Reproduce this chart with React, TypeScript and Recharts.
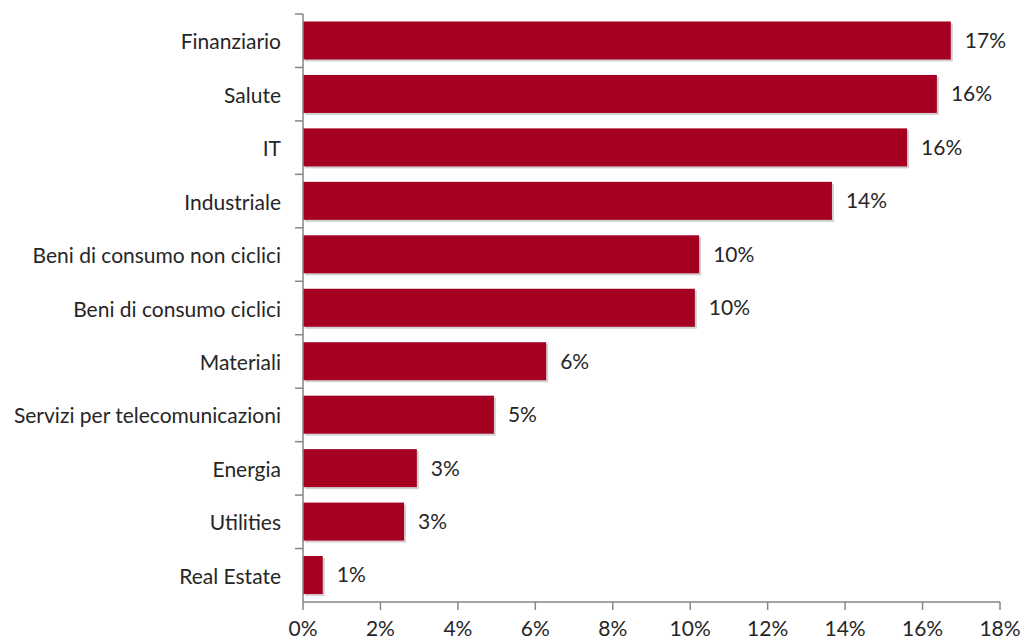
import { BarChart, Bar, XAxis, YAxis, LabelList } from "recharts";

const categories = [
  "Finanziario",
  "Salute",
  "IT",
  "Industriale",
  "Beni di consumo non ciclici",
  "Beni di consumo ciclici",
  "Materiali",
  "Servizi per telecomunicazioni",
  "Energia",
  "Utilities",
  "Real Estate",
];
const weights = [16.73, 16.37, 15.6, 13.66, 10.23, 10.12, 6.28, 4.93, 2.94, 2.61, 0.51];
const labels = ["17%", "16%", "16%", "14%", "10%", "10%", "6%", "5%", "3%", "3%", "1%"];
const xTicks = [0, 2, 4, 6, 8, 10, 12, 14, 16, 18];

const BAR = "#A50021";
const AXIS = "#868686";
const TEXT = "#262626";
const FONT = "Lato, 'Noto Sans', sans-serif";

const W = 1024;
const H = 644;
const M = { top: 14, right: 24, bottom: 12, left: 0 };
const Y_W = 303;
const X_H = 30;
const HALF_BAND = (H - M.top - M.bottom - X_H) / categories.length / 2;

const data = categories.map((name, i) => ({ name, value: weights[i], label: labels[i] }));

const CategoryTick = (props: any) => {
  const { x, y, payload } = props;
  const half = payload?.offset || HALF_BAND;
  return (
    <g>
      <line x1={x + 14} x2={x + 22} y1={y - half} y2={y - half} stroke={AXIS} strokeWidth={1.5} />
      <text x={x} y={y} textAnchor="end" dominantBaseline="central" fill={TEXT} fontSize={21} fontFamily={FONT}>
        {payload.value}
      </text>
    </g>
  );
};

const ShadowBar = (props: any) => {
  const { x, y, width, height } = props;
  if (!width || width <= 0) return null;
  return (
    <g>
      <rect x={x + 2} y={y + 2} width={width} height={height} fill="rgba(0,0,0,0.18)" />
      <rect x={x} y={y} width={width} height={height} fill={BAR} />
    </g>
  );
};

export default function App() {
  return (
    <div style={{ position: "absolute", left: 0, top: 0, background: "#fff" }}>
      <BarChart width={W} height={H} data={data} layout="vertical" margin={M} barCategoryGap="14%">
        <XAxis
          type="number"
          domain={[0, 18]}
          ticks={xTicks}
          interval={0}
          height={X_H}
          tickFormatter={(v: number) => `${v}%`}
          axisLine={{ stroke: AXIS, strokeWidth: 1.5 }}
          tickLine={{ stroke: AXIS, strokeWidth: 1.5 }}
          tickSize={8}
          tick={{ fill: TEXT, fontSize: 21, fontFamily: FONT, dy: 9 }}
        />
        <YAxis
          type="category"
          dataKey="name"
          width={Y_W}
          interval={0}
          axisLine={{ stroke: AXIS, strokeWidth: 1.5 }}
          tickLine={false}
          tickSize={0}
          tickMargin={22}
          tick={<CategoryTick />}
        />
        <Bar dataKey="value" fill={BAR} shape={<ShadowBar />} isAnimationActive={false}>
          <LabelList
            dataKey="label"
            position="right"
            offset={14}
            fill={TEXT}
            fontSize={21}
            fontFamily={FONT}
          />
        </Bar>
      </BarChart>
    </div>
  );
}
